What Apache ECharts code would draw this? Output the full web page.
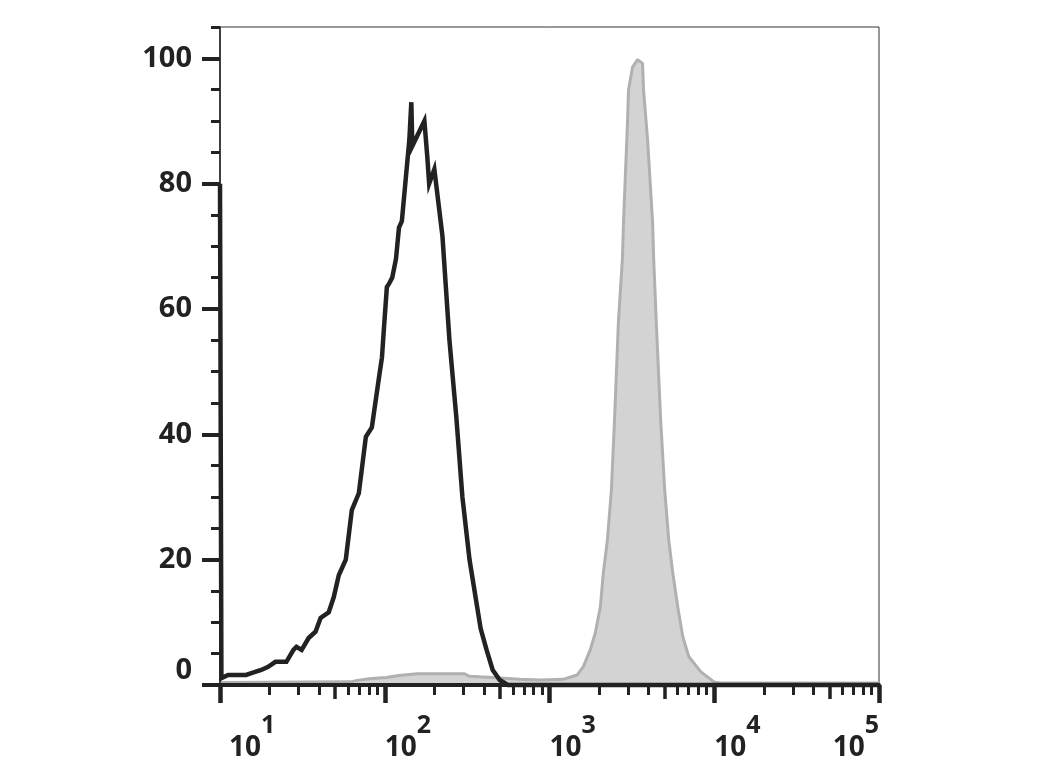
<!DOCTYPE html>
<html><head><meta charset="utf-8">
<script src="https://cdn.jsdelivr.net/npm/echarts@6/dist/echarts.min.js"></script>
<style>html,body{margin:0;padding:0;background:#fff}#c{width:1041px;height:780px}</style>
</head><body><div id="c"></div>
<script>
// Unstained / control histogram (black line)
const blackX = [10, 10.2, 11.2, 14.4, 15.5, 17.8, 19.6, 21.7, 25.3, 27.9, 29.1, 31.3, 34.5, 38.0, 40.8, 45.7, 49.0, 52.6, 58.0, 63.1, 69.6, 76.8, 83.5, 92.2, 96.2, 98.9, 103, 106, 111, 117, 122, 127, 141, 145, 147, 174, 181, 186, 200, 224, 247, 272, 296, 327, 356, 382, 415, 452, 499, 558, 100000];
const blackY = [80, 1.1, 1.6, 1.6, 1.9, 2.4, 2.9, 3.7, 3.7, 5.6, 6.1, 5.6, 7.5, 8.5, 10.7, 11.6, 14.0, 17.5, 20, 27.9, 30.6, 39.6, 41.1, 49, 52.3, 57, 63.5, 64, 65, 68, 73, 74, 87, 93, 86, 90, 84.5, 80, 82.3, 71.6, 55, 42.7, 30, 20, 14, 9, 5.6, 2.4, 0.8, 0, 0];
// Stained histogram (grey filled)
const greyX = [10, 62.2, 66.7, 80.1, 102, 122, 157, 305, 327, 376, 452, 661, 875, 1208, 1472, 1603, 1767, 1896, 2034, 2122, 2245, 2374, 2479, 2620, 2771, 2812, 2891, 2973, 3018, 3193, 3421, 3670, 3722, 3939, 4110, 4227, 4289, 4470, 4728, 5003, 5296, 5600, 6008, 6442, 7014, 8301, 9970, 11000, 100000];
const greyY = [0.4, 0.5, 0.7, 1.0, 1.2, 1.5, 1.8, 1.8, 1.4, 1.3, 1.2, 0.9, 0.8, 0.9, 1.6, 2.9, 5.6, 8.3, 12.4, 17.9, 23.1, 31, 42, 58, 68, 73.7, 81.7, 89.6, 95, 98.6, 99.8, 99.2, 95, 87, 79, 73.7, 68, 56.6, 42.3, 31.1, 23.1, 17.9, 12.4, 7.7, 4.5, 2.1, 0.5, 0.3, 0.3];

const xMajor = [10, 100, 1000, 10000, 100000];
const xExponents = ['1', '2', '3', '4', '5'];
const xMid = [50, 500, 5000, 50000];
const xMinor = [20, 30, 40, 60, 70, 80, 90, 200, 300, 400, 600, 700, 800, 900, 2000, 3000, 4000, 6000, 7000, 8000, 9000, 20000, 30000, 40000, 60000, 70000, 80000, 90000];
const yMajor = [0, 20, 40, 60, 80, 100];
const yMinor = [5, 10, 15, 25, 30, 35, 45, 50, 55, 65, 70, 75, 85, 90, 95, 105];

const dark = '#222';
const font = 'Noto Sans';
const weight = 'bold';

function xAxisBase(extra) {
  return Object.assign({
    type: 'log', logBase: 10, min: 10, max: 100000, gridIndex: 0, z: 10, position: 'bottom', offset: 0,
    splitLine: { show: false }, axisLine: { show: false, onZero: false },
    axisLabel: { show: false }, axisTick: { show: false }, minorTick: { show: false }
  }, extra);
}
function yAxisBase(extra) {
  return Object.assign({
    type: 'value', min: 0, max: 105, gridIndex: 0, z: 10, position: 'left', offset: 0,
    splitLine: { show: false }, axisLine: { show: false, onZero: false },
    axisLabel: { show: false }, axisTick: { show: false }, minorTick: { show: false }
  }, extra);
}
function zip(a, b) { return a.map((v, i) => [v, b[i]]); }

const chart = echarts.init(document.getElementById('c'), null, { renderer: 'canvas' });
chart.setOption({
  animation: false,
  backgroundColor: '#fff',
  grid: { left: 220, right: 162, top: 27, bottom: 95, show: true, borderColor: '#333', borderWidth: 1 },
  xAxis: [
    xAxisBase({
      axisLine: { show: true, onZero: false, lineStyle: { color: dark, width: 4 } },
      axisTick: { show: true, inside: false, customValues: xMajor, length: 18, lineStyle: { color: dark, width: 4.5 } },
      axisLabel: {
        show: true, customValues: xMajor, margin: 47, align: 'left', alignMaxLabel: 'right',
        formatter: function (v) {
          let idx = 0, best = 1e9;
          xMajor.forEach((m, i) => { const d = Math.abs(Math.log10(m) - Math.log10(v)); if (d < best) { best = d; idx = i; } });
          const b = idx === 0 ? 'b0' : 'b';
          return '{' + b + '|10}{s|' + xExponents[idx] + '}';
        },
        rich: {
          b: { fontFamily: font, fontWeight: weight, fontSize: 28, color: dark, lineHeight: 30, verticalAlign: 'bottom' },
          b0: { fontFamily: font, fontWeight: weight, fontSize: 28, color: dark, lineHeight: 30, verticalAlign: 'bottom', padding: [0, 0, 0, 9] },
          s: { fontFamily: font, fontWeight: weight, fontSize: 25, color: dark, lineHeight: 30, verticalAlign: 'bottom', padding: [0, 0, 24, 0] }
        }
      }
    }),
    xAxisBase({ axisTick: { show: true, inside: false, customValues: xMid, length: 14, lineStyle: { color: dark, width: 3.5 } } }),
    xAxisBase({ axisTick: { show: true, inside: false, customValues: xMinor, length: 10, lineStyle: { color: dark, width: 3 } } })
  ],
  yAxis: [
    yAxisBase({
      axisLine: { show: true, onZero: false, lineStyle: { color: dark, width: 1.5 } },
      axisTick: { show: true, inside: false, customValues: yMajor, length: 18, lineStyle: { color: dark, width: 4 } },
      axisLabel: {
        show: true, customValues: yMajor, margin: 28, fontFamily: font, fontWeight: weight, fontSize: 29, color: dark,
        padding: [8, 0, 0, 0], verticalAlignMinLabel: 'bottom'
      }
    }),
    yAxisBase({ axisTick: { show: true, inside: false, customValues: yMinor, length: 9, lineStyle: { color: dark, width: 3 } } })
  ],
  series: [
    {
      type: 'line', name: 'stained', xAxisIndex: 0, yAxisIndex: 0, data: zip(greyX, greyY),
      symbol: 'none', z: 2, clip: true,
      lineStyle: { color: '#b0b0b0', width: 3 },
      areaStyle: { color: '#d3d3d3', opacity: 1 }
    },
    {
      type: 'line', name: 'control', xAxisIndex: 0, yAxisIndex: 0, data: zip(blackX, blackY),
      symbol: 'none', z: 3, clip: false,
      lineStyle: { color: '#222', width: 4.5, join: 'miter' }
    }
  ]
});
</script>
</body></html>
